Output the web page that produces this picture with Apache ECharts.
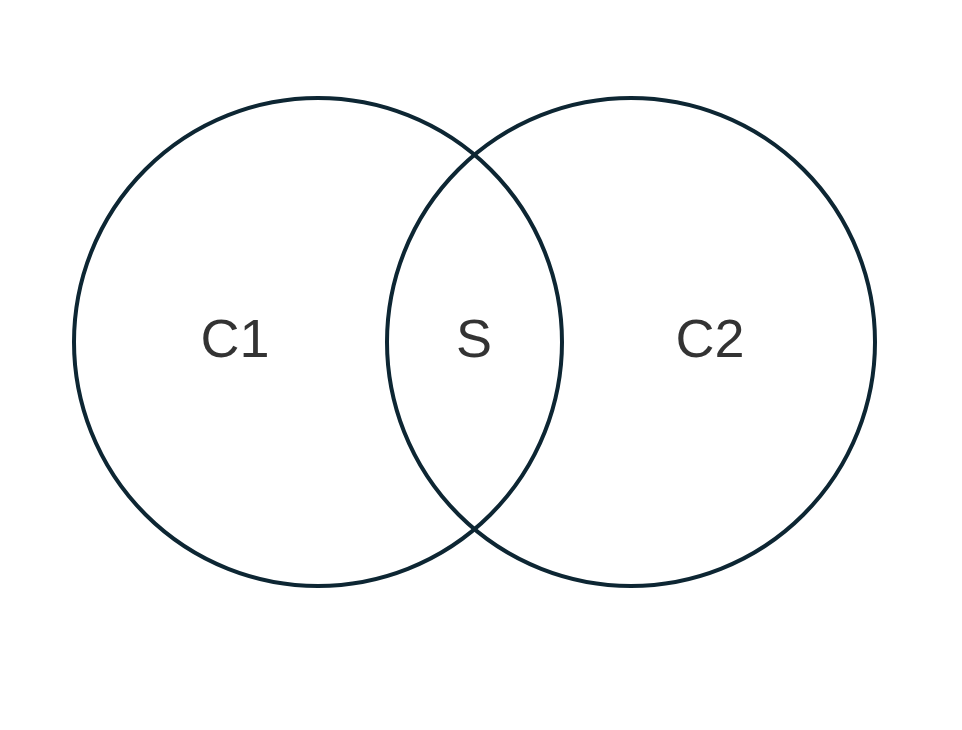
<!DOCTYPE html>
<html><head><meta charset="utf-8">
<script src="https://cdn.jsdelivr.net/npm/echarts@6/dist/echarts.min.js"></script>
<style>html,body{margin:0;background:#fff}#c{width:962px;height:730px}</style>
</head><body><div id="c"></div>
<script>
const circleNames = ['C1', 'C2'];
const circleCenterX = [318, 631];
const circleCenterY = [342, 342];
const circleRadius = [244, 244];
const labelTexts = ['C1', 'S', 'C2'];
const labelX = [235, 474, 710];
const labelY = [342, 342, 342];

const chart = echarts.init(document.getElementById('c'));
chart.setOption({
  animation: false,
  grid: {left: 0, top: 0, width: 962, height: 730},
  xAxis: {type: 'value', min: 0, max: 962, show: false},
  yAxis: {type: 'value', min: 0, max: 730, inverse: true, show: false},
  series: [
    {
      type: 'custom',
      data: circleNames.map((n, i) => [circleCenterX[i], circleCenterY[i], circleRadius[i]]),
      renderItem: (params, api) => {
        const c = api.coord([api.value(0), api.value(1)]);
        const r = api.size([api.value(2), api.value(2)])[0];
        return {type: 'circle', shape: {cx: c[0], cy: c[1], r: r},
          style: {fill: 'none', stroke: '#0d2633', lineWidth: 4}};
      }
    },
    {
      type: 'scatter',
      symbolSize: 0,
      data: labelTexts.map((t, i) => ({value: [labelX[i], labelY[i]], name: t})),
      label: {show: true, position: 'inside', formatter: p => p.name,
        fontFamily: 'Liberation Sans, Arial, sans-serif', fontSize: 54, color: '#000'}
    }
  ]
});
</script></body></html>
